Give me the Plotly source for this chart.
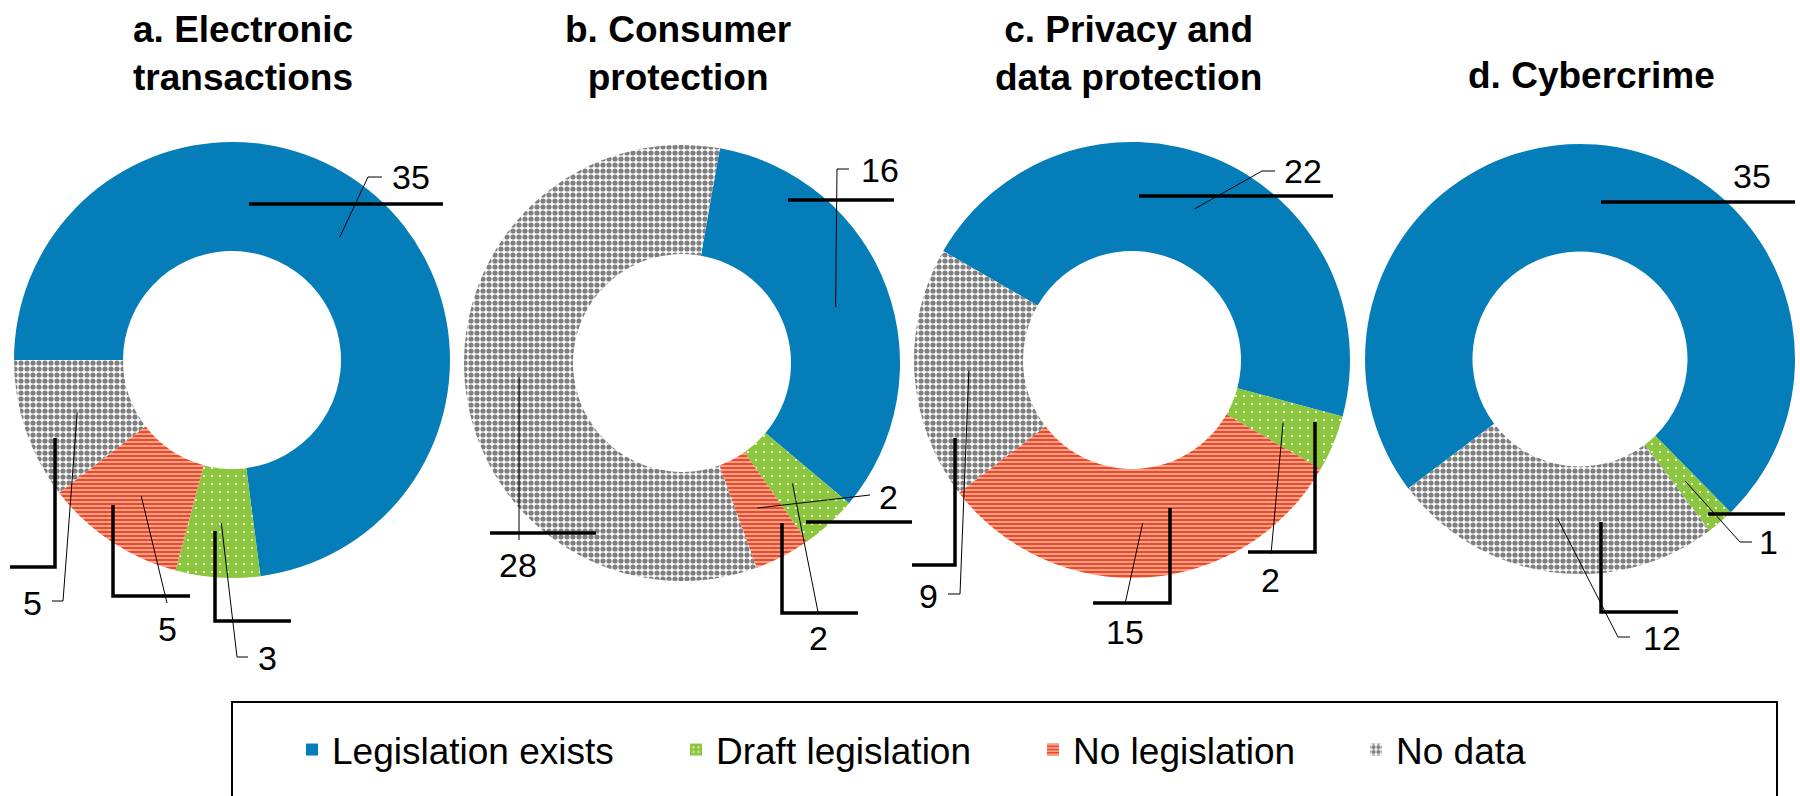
import math
import plotly.graph_objects as go

W, H = 1800, 796

# ---------------- data ----------------
panel_titles = ["a. Electronic<br>transactions", "b. Consumer<br>protection",
                "c. Privacy and<br>data protection", "d. Cybercrime"]
categories = ["Legislation exists", "Draft legislation", "No legislation", "No data"]
electronic_transactions = [35, 3, 5, 5]
consumer_protection = [16, 2, 2, 28]
privacy_data_protection = [22, 2, 15, 9]
cybercrime = [35, 1, 0, 12]
series = [electronic_transactions, consumer_protection, privacy_data_protection, cybercrime]

# ---------------- style ----------------
FONT = "Liberation Sans, Arial, sans-serif"
BLUE, GREEN, RED, GREY = "#057DB9", "#8CC63F", "#EC4B25", "#7F7F7F"
pat_shape = ["", ".", "-", "."]
pat_fg = ["white", "white", "white", GREY]
pat_bg = [BLUE, GREEN, RED, "white"]
pat_size = [8, 8, 4, 6]
pat_sol = [0.3, 0.06, 0.24, 0.6]
slice_colors = [BLUE, GREEN, RED, "white"]

centers = [(232, 360), (682, 363), (1132, 360), (1580, 359)]
radii = [218, 218, 218, 215]
rotations = [270, 10, 300, 233]
HOLE = 0.5

# label placement (pixel positions) : category -> (label pos, leader bends)
label_specs = [
    {0: ((411, 177), [(368, 177), (382, 177)]),
     3: ((32, 603), [(63, 601), (52, 601)]),
     2: ((167, 629), [(167, 603)]),
     1: ((267, 658), [(237, 657), (248, 657)])},
    {0: ((880, 170), [(837, 169), (849, 169)]),
     2: ((888, 497), [(870, 495)]),
     1: ((818, 638), [(818, 612)]),
     3: ((518, 565), [(519, 540)])},
    {0: ((1303, 171), [(1262, 171), (1275, 171)]),
     1: ((1270, 580), [(1271, 554)]),
     2: ((1125, 632), [(1125, 604)]),
     3: ((928, 596), [(960, 594), (948, 594)])},
    {0: ((1752, 176), []),
     1: ((1768, 542), [(1740, 542), (1752, 542)]),
     3: ((1662, 638), [(1618, 637), (1630, 637)])},
]

# thick black strokes present in the original figure (pixel coords)
thick_paths = [
    [(249, 204), (443, 204)], [(55, 438), (55, 567), (10, 567)],
    [(113, 505), (113, 596), (190, 596)], [(215, 531), (215, 621), (291, 621)],
    [(788, 200), (894, 200)], [(490, 533), (596, 533)], [(806, 522), (912, 522)],
    [(782, 523), (782, 613), (858, 613)],
    [(1139, 196), (1333, 196)], [(955, 438), (955, 565), (912, 565)],
    [(1170, 508), (1170, 603), (1093, 603)], [(1315, 422), (1315, 552), (1248, 552)],
    [(1601, 202), (1795, 202)], [(1708, 514), (1785, 514)],
    [(1601, 522), (1601, 612), (1678, 612)],
]

title_pos = [(243, 7), (678, 7), (1128, 7), (1591, 53)]
legend_pos = [292, 676, 1033, 1356]  # entry left edge per legend item

fig = go.Figure()

shapes = []
annotations = []


def path_str(pts):
    return "M " + " L ".join(f"{x:.1f},{y:.1f}" for x, y in pts)


for i, vals in enumerate(series):
    cx, cy = centers[i]
    r = radii[i]
    fig.add_trace(go.Pie(
        labels=categories, values=vals, sort=False, direction="clockwise",
        rotation=rotations[i], hole=HOLE, textinfo="none", showlegend=False,
        hoverinfo="label+value",
        domain=dict(x=[(cx - r) / W, (cx + r) / W], y=[1 - (cy + r) / H, 1 - (cy - r) / H]),
        marker=dict(colors=slice_colors, line=dict(width=0),
                    pattern=dict(shape=pat_shape, fgcolor=pat_fg, bgcolor=pat_bg,
                                 size=pat_size, solidity=pat_sol, fillmode="replace")),
    ))
    total = sum(vals)
    cum = 0
    for k, v in enumerate(vals):
        start = rotations[i] + 360 * cum / total
        mid = math.radians(start + 180 * v / total)
        cum += v
        if v == 0 or k not in label_specs[i]:
            continue
        rm = r * (1 + HOLE) / 2
        ax, ay = cx + rm * math.sin(mid), cy - rm * math.cos(mid)
        (lx, ly), bends = label_specs[i][k]
        if bends:
            shapes.append(dict(type="path", xref="x", yref="y", path=path_str([(ax, ay)] + bends),
                               line=dict(color="black", width=1), layer="above"))
        annotations.append(dict(x=lx, y=ly, xref="x", yref="y", text=str(v), showarrow=False,
                                xanchor="center", yanchor="middle",
                                font=dict(family=FONT, size=34, color="black")))
    tx, ty = title_pos[i]
    annotations.append(dict(x=tx, y=ty, xref="x", yref="y", text=panel_titles[i], showarrow=False,
                            xanchor="center", yanchor="top", align="center",
                            font=dict(family=FONT, size=37, color="black", weight="bold")))

for pts in thick_paths:
    shapes.append(dict(type="path", xref="x", yref="y", path=path_str(pts),
                       line=dict(color="black", width=3.5), layer="above"))

# legend frame
shapes.append(dict(type="rect", xref="x", yref="y", x0=232, x1=1777, y0=702, y1=820,
                   line=dict(color="black", width=2), layer="above"))

# legend entries (one legend each, for placement)
legend_layout = {}
for k, cat in enumerate(categories):
    lname = "legend" if k == 0 else f"legend{k + 1}"
    fig.add_trace(go.Bar(
        x=[None], y=[None], name=cat, legend=lname, showlegend=True,
        marker=dict(color=slice_colors[k], line=dict(width=0),
                    pattern=dict(shape=pat_shape[k], fgcolor=pat_fg[k], bgcolor=pat_bg[k],
                                 size=pat_size[k] if k != 1 else 6,
                                 solidity=pat_sol[k] if k != 1 else 0.12,
                                 fillmode="replace")),
    ))
    legend_layout[lname] = dict(x=legend_pos[k] / W, xanchor="left", y=1 - 750 / H, yanchor="middle",
                                bgcolor="rgba(0,0,0,0)", borderwidth=0,
                                font=dict(family=FONT, size=37, color="black"))

fig.update_layout(
    width=W, height=H, margin=dict(l=0, r=0, t=0, b=0),
    paper_bgcolor="white", plot_bgcolor="white",
    xaxis=dict(range=[0, W], visible=False, fixedrange=True),
    yaxis=dict(range=[H, 0], visible=False, fixedrange=True),
    shapes=shapes, annotations=annotations, showlegend=True,
    **legend_layout,
)

fig.write_html("out.html", config={"displayModeBar": False},
               post_script="document.body.style.margin='0px';document.body.style.overflow='hidden';")
